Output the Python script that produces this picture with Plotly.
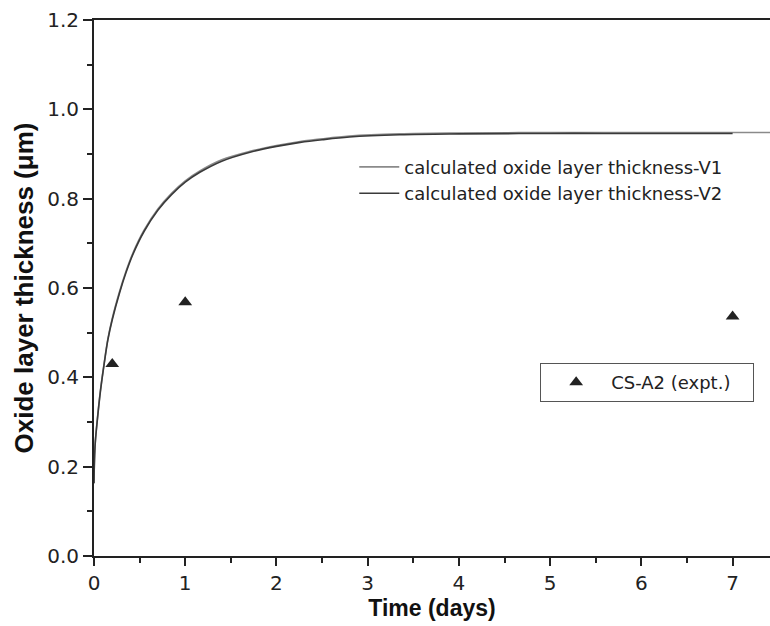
import plotly.graph_objects as go

# calculated oxide layer thickness
t_v1 = [0, 0.005, 0.014, 0.036, 0.07, 0.11, 0.153, 0.2, 0.28, 0.35, 0.43, 0.55, 0.7, 0.85,
        1.0, 1.16, 1.4, 1.71, 2.0, 2.26, 2.5, 2.8, 3.35, 4.0, 5.0, 6.0, 7.0, 7.45]
y_v1 = [0.163, 0.215, 0.255, 0.305, 0.37, 0.43, 0.487, 0.532, 0.592, 0.637, 0.680, 0.73, 0.777, 0.812,
        0.84, 0.862, 0.887, 0.906, 0.919, 0.928, 0.934, 0.940, 0.945, 0.947, 0.948, 0.948, 0.948, 0.948]
t_v2 = [0, 0.005, 0.014, 0.036, 0.07, 0.11, 0.153, 0.2, 0.28, 0.35, 0.43, 0.55, 0.7, 0.85,
        1.0, 1.16, 1.4, 1.71, 2.0, 2.26, 2.5, 2.8, 3.35, 4.0, 5.0, 6.0, 7.0]
y_v2 = [0.163, 0.214, 0.254, 0.303, 0.368, 0.428, 0.485, 0.529, 0.589, 0.634, 0.677, 0.727, 0.774, 0.809,
        0.837, 0.859, 0.884, 0.904, 0.917, 0.926, 0.932, 0.938, 0.943, 0.945, 0.946, 0.946, 0.946]

# experimental points
t_exp = [0.2, 1.0, 7.0]
y_exp = [0.43, 0.568, 0.536]

x_ticks = [0, 1, 2, 3, 4, 5, 6, 7]
y_ticks = [0.0, 0.2, 0.4, 0.6, 0.8, 1.0, 1.2]

tick_font = dict(family="DejaVu Sans", size=20, color="#222222")
leg_font = dict(family="DejaVu Sans", size=18, color="#222222")

fig = go.Figure()
fig.add_trace(go.Scatter(x=t_v1, y=y_v1, mode="lines", name="calculated oxide layer thickness-V1",
                         line=dict(color="#8a8a8a", width=1.6, shape="spline", smoothing=1.0), legend="legend"))
fig.add_trace(go.Scatter(x=t_v2, y=y_v2, mode="lines", name="calculated oxide layer thickness-V2",
                         line=dict(color="#3a3a3a", width=1.6, shape="spline", smoothing=1.0), legend="legend"))
fig.add_trace(go.Scatter(x=t_exp, y=y_exp, mode="markers", name="CS-A2 (expt.)\u00a0\u00a0\u00a0",
                         marker=dict(symbol="triangle-up", size=12, color="#222222"), legend="legend2"))

fig.update_layout(
    width=770, height=626,
    margin=dict(l=94, r=0, t=20, b=70),
    paper_bgcolor="white", plot_bgcolor="white",
    legend=dict(x=0.385, y=0.76, xanchor="left", yanchor="top", font=leg_font,
                bgcolor="rgba(0,0,0,0)", borderwidth=0, tracegroupgap=0, itemwidth=40),
    legend2=dict(x=0.66, y=0.36, xanchor="left", yanchor="top", font=leg_font,
                 bgcolor="white", bordercolor="#555555", borderwidth=1, itemwidth=60),
    xaxis=dict(range=[0, 7.41], tickvals=x_ticks, ticks="outside", ticklen=8, tickwidth=2,
               tickcolor="#222222", showline=True, linecolor="#222222", linewidth=2, mirror=True,
               showgrid=False, zeroline=False, tickfont=tick_font,
               minor=dict(ticks="outside", ticklen=5, tickwidth=2, dtick=0.5, tickcolor="#222222", showgrid=False),
               title=dict(text="<b>Time (days)</b>", font=dict(family="Liberation Sans", size=23, color="#111111"),
                          standoff=4)),
    yaxis=dict(range=[0, 1.2], tickvals=y_ticks, tickformat=".1f", ticks="outside", ticklen=9, tickwidth=2,
               tickcolor="#222222", showline=True, linecolor="#222222", linewidth=2, mirror=False,
               showgrid=False, zeroline=False, tickfont=tick_font,
               minor=dict(ticks="outside", ticklen=5, tickwidth=2, dtick=0.1, tickcolor="#222222", showgrid=False),
               title=dict(text="<b>Oxide layer thickness (μm)</b>",
                          font=dict(family="Liberation Sans", size=26, color="#111111"), standoff=6)),
)

fig.write_html("out.html")
